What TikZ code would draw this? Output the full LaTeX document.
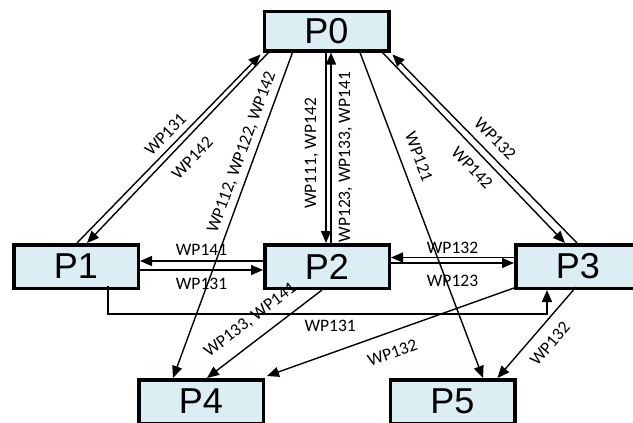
\documentclass[tikz,border=0pt]{standalone}
\usepackage{fontspec}
\setmainfont{Liberation Sans}
\newfontfamily\wpfont{Carlito}
\usetikzlibrary{arrows.meta}
\definecolor{boxblue}{HTML}{DAEEF3}
\begin{document}
\begin{tikzpicture}[x=1pt,y=-1pt,line width=1.4pt,
    >={Triangle[length=12pt,width=10pt]},
    box/.style={draw,line width=3.5pt,fill=boxblue,minimum width=124.5pt,
      minimum height=43.5pt,inner sep=0pt,font=\fontsize{36}{36}\selectfont},
    wp/.style={font=\wpfont\fontsize{17.5}{17.5}\selectfont,inner sep=1pt}]
        \clip (0,0) rectangle (633,423);
        \node[box,minimum height=39.5pt] (P0) at (326.5,31) {P0};
        \node[box] (P1) at (76,266.5) {P1};
        \node[box] (P2) at (327,266.5) {P2};
        \node[box] (P3) at (578,266.5) {P3};
        \node[box] (P4) at (201,401.5) {P4};
        \node[box] (P5) at (452.5,401.5) {P5};
        \draw[->] ([xshift=1pt]P1.north) -- ([xshift=-2pt,yshift=-2pt]P0.south west)
        node[wp,pos=.53,sloped,above=5pt] {WP131};
        \draw[->] ([xshift=6pt]P0.south west) -- ([xshift=11pt]P1.north)
        node[wp,pos=.49,sloped,below=10pt] {WP142};
        \draw[->] ([xshift=-34pt]P0.south) -- ([xshift=-28pt]P4.north)
        node[wp,pos=.32,sloped,above=4.5pt] {WP112, WP122, WP142};
        \draw[->] ([xshift=-.5pt]P0.south) -- ([xshift=-1pt]P2.north)
        node[wp,pos=.53,rotate=90,above=6pt] {WP111, WP142};
        \draw[->] ([xshift=4pt]P2.north) -- ([xshift=4.5pt]P0.south)
        node[wp,pos=.45,rotate=90,below=6pt] {WP123, WP133, WP141};
        \draw[->] ([xshift=33.5pt]P0.south) -- ([xshift=30.5pt]P5.north)
        node[wp,pos=.34,sloped,above=11pt] {WP121};
        \draw[->] ([xshift=-1pt]P3.north) -- ([xshift=2pt,yshift=-2pt]P0.south east)
        node[wp,pos=.5,sloped,above=7pt] {WP132};
        \draw[->] ([xshift=-8pt]P0.south east) -- ([xshift=-13pt]P3.north)
        node[wp,pos=.55,sloped,below=7.5pt] {WP142};
        \draw[->] ([yshift=5.5pt]P2.west) -- ([yshift=5.5pt]P1.east)
        node[wp,midway,above=3.5pt] {WP141};
        \draw[->] ([yshift=-3.5pt]P1.east) -- ([yshift=-3.5pt]P2.west)
        node[wp,midway,below=6.5pt] {WP131};
        \draw[->] ([yshift=9pt]P3.west) -- ([yshift=9pt]P2.east)
        node[wp,midway,above=2.5pt] {WP132};
        \draw[->] ([yshift=3.5pt]P2.east) -- ([yshift=3.5pt]P3.west)
        node[wp,midway,below=10pt] {WP123};
        \draw[->] ([xshift=32pt,yshift=4pt]P1.south) -- ++(0,28)
        -| ([xshift=-31pt]P3.south)
        node[wp,pos=.253,below=4.5pt] {WP131};
        \draw[->] ([xshift=-5pt]P2.south) -- ([xshift=6pt]P4.north)
        node[wp,pos=.52,sloped,above=11pt] {WP133, WP141};
        \draw[->] ([yshift=2pt]P3.south west) -- ([xshift=2pt,yshift=2pt]P4.north east)
        node[wp,pos=.52,sloped,below=13pt] {WP132};
        \draw[->] ([xshift=-2pt,yshift=3pt]P3.south) -- ([xshift=45pt]P5.north)
        node[wp,pos=.5,sloped,below=10pt] {WP132};
\end{tikzpicture}
\end{document}
